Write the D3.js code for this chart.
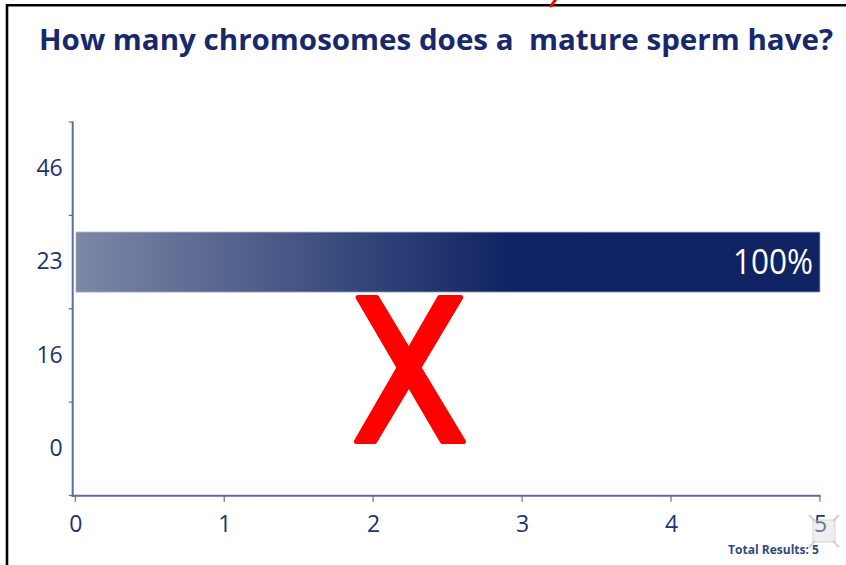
<!DOCTYPE html>
<html><head><meta charset="utf-8">
<script src="https://cdn.jsdelivr.net/npm/d3@7"></script>
<style>html,body{margin:0;padding:0;background:#fff;}svg{display:block;}</style>
</head><body>
<script>
const title = "How many chromosomes does a \u00a0mature sperm have?";
const categories = ["46", "23", "16", "0"];
const counts = [0, 5, 0, 0];
const percents = [0, 100, 0, 0];
const xTicks = [0, 1, 2, 3, 4, 5];
const totalResults = 5;

(function () {
const W = 846, H = 565;
const svg = d3.select("body").append("svg").attr("width", W).attr("height", H);

const defs = svg.append("defs");
const grad = defs.append("linearGradient").attr("id", "barGrad")
  .attr("x1", "0%").attr("x2", "100%").attr("y1", "0%").attr("y2", "0%");
grad.append("stop").attr("offset", "0%").attr("stop-color", "#7c88a7");
grad.append("stop").attr("offset", "58%").attr("stop-color", "#102463");
grad.append("stop").attr("offset", "100%").attr("stop-color", "#0f2362");

// frame
svg.append("path").attr("d", `M7,${H+2} L7,5.3 L${W+2},5.3`)
  .attr("fill", "none").attr("stroke", "#000").attr("stroke-width", 2.6);
// cut-off red mark at top
svg.append("path").attr("d", "M556,-1 L551,6").attr("stroke", "#ff0000")
  .attr("stroke-width", 3).attr("stroke-linecap", "round");

// title
svg.append("text").attr("x", 39).attr("y", 50)
  .attr("font-family", "'Open Sans', sans-serif").attr("font-weight", "bold")
  .attr("font-size", 29).attr("fill", "#17296a")
  .attr("textLength", 794).attr("lengthAdjust", "spacingAndGlyphs")
  .text(title);

const x = d3.scaleLinear().domain([0, 5]).range([75.3, 820]);
const y = d3.scaleBand().domain(categories).range([122, 495.5]).paddingInner(0).paddingOuter(0);
const barFrac = 0.643;

const axisColor = "#5b6ea0";
const labelColor = "#1f3371";
const tickFont = "'Open Sans', sans-serif";

// bars
const data = categories.map((c, i) => ({ c, v: counts[i], p: percents[i] }));
const bars = svg.append("g");
bars.selectAll("rect").data(data.filter(d => d.v > 0)).join("rect")
  .attr("x", x(0) + 0.7)
  .attr("y", d => y(d.c) + y.bandwidth() * (1 - barFrac) / 2)
  .attr("width", d => x(d.v) - x(0) - 0.7)
  .attr("height", y.bandwidth() * barFrac)
  .attr("fill", "url(#barGrad)")
  .attr("stroke", "#aab2c8").attr("stroke-width", 0.8);
bars.selectAll("text").data(data.filter(d => d.v > 0)).join("text")
  .attr("x", d => x(d.v) - 7)
  .attr("y", d => y(d.c) + y.bandwidth() / 2 + 12)
  .attr("text-anchor", "end")
  .attr("font-family", tickFont).attr("font-size", 34).attr("fill", "#fff")
  .attr("textLength", 80).attr("lengthAdjust", "spacingAndGlyphs")
  .text(d => d.p + "%");

// y axis
const yAxisX = 72.7;
const yAxis = d3.axisLeft(y).tickSize(0).tickPadding(10);
const gy = svg.append("g").attr("transform", `translate(${yAxisX},0)`).call(yAxis);
gy.select(".domain").remove();
gy.selectAll("text").attr("font-family", tickFont).attr("font-size", 23).attr("fill", labelColor);
svg.append("line").attr("x1", yAxisX).attr("x2", yAxisX).attr("y1", 121.5).attr("y2", 497)
  .attr("stroke", axisColor).attr("stroke-width", 2);
const bounds = categories.map(c => y(c)).concat([y.range()[1]]);
svg.append("g").selectAll("line").data(bounds).join("line")
  .attr("x1", yAxisX - 4).attr("x2", yAxisX).attr("y1", d => d).attr("y2", d => d)
  .attr("stroke", axisColor).attr("stroke-width", 1.2);

// x axis
const xAxisY = 495.7;
const xAxis = d3.axisBottom(x).tickValues(xTicks).tickFormat(d3.format("d")).tickSize(0).tickPadding(20);
const gx = svg.append("g").attr("transform", `translate(0,${xAxisY})`).call(xAxis);
gx.select(".domain").remove();
gx.selectAll("text").attr("font-family", tickFont).attr("font-size", 23).attr("fill", labelColor);
svg.append("line").attr("x1", yAxisX - 1).attr("x2", x(5) + 0.5).attr("y1", xAxisY).attr("y2", xAxisY)
  .attr("stroke", axisColor).attr("stroke-width", 2);
svg.append("g").selectAll("line").data(xTicks).join("line")
  .attr("x1", d => x(d)).attr("x2", d => x(d)).attr("y1", xAxisY).attr("y2", xAxisY + 6)
  .attr("stroke", axisColor).attr("stroke-width", 1.2);

// expand icon (faint)
const ic = svg.append("g").attr("opacity", 0.4);
ic.append("rect").attr("x", 813).attr("y", 520).attr("width", 22).attr("height", 22)
  .attr("fill", "#d8d8d8").attr("stroke", "#999").attr("stroke-width", 1);
[[809, 515, 815, 521], [839, 515, 833, 521], [809, 547, 815, 541], [839, 547, 833, 541]].forEach(s => {
  ic.append("line").attr("x1", s[0]).attr("y1", s[1]).attr("x2", s[2]).attr("y2", s[3])
    .attr("stroke", "#888").attr("stroke-width", 2);
});

// total results
svg.append("text").attr("x", 728).attr("y", 553.5)
  .attr("font-family", tickFont).attr("font-weight", "bold").attr("font-size", 11.5)
  .attr("fill", "#34497d").attr("textLength", 91).attr("lengthAdjust", "spacingAndGlyphs")
  .text("Total Results: " + totalResults);

// red X annotation
const cx = x(2.25), yTop = 295, yBot = 444;
const r = 2.5;
const strokeA = [[cx - 54.8 + r, yTop + r], [cx - 31.2 - r, yTop + r], [cx + 55.5 - r, yBot - r], [cx + 29.5 + r, yBot - r]];
const strokeB = [[cx + 26.8 + r, yTop + r], [cx + 52.8 - r, yTop + r], [cx - 33.2 - r, yBot - r], [cx - 56.5 + r, yBot - r]];
[strokeA, strokeB].forEach(p => {
  svg.append("path").attr("d", "M" + p.map(q => q.join(",")).join("L") + "Z")
    .attr("fill", "#ff0000").attr("stroke", "#ff0000")
    .attr("stroke-width", r * 2).attr("stroke-linejoin", "round");
});
})();
</script>
</body></html>
